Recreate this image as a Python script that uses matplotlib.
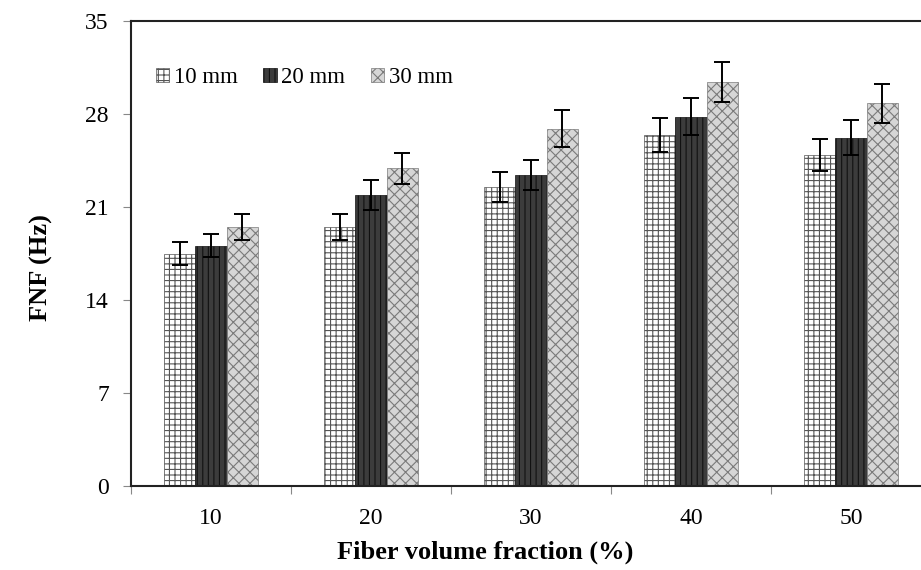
import numpy as np
import matplotlib
matplotlib.use('Agg')
import matplotlib.pyplot as plt

plt.rcParams['font.family'] = ['Liberation Serif', 'DejaVu Serif']
plt.rcParams['hatch.linewidth'] = 0.8

# data
fractions = ['10', '20', '30', '40', '50']
series_names = ['10 mm', '20 mm', '30 mm']
fnf_10mm = [17.5, 19.5, 22.5, 26.4, 24.9]
fnf_20mm = [18.1, 21.9, 23.4, 27.8, 26.2]
fnf_30mm = [19.5, 23.9, 26.9, 30.4, 28.8]
err_10mm = [0.85, 0.96, 1.10, 1.29, 1.22]
err_20mm = [0.89, 1.10, 1.15, 1.40, 1.32]
err_30mm = [0.96, 1.18, 1.37, 1.53, 1.44]

fig = plt.figure(figsize=(9.21, 5.70), dpi=100)
ax = fig.add_axes([131 / 921, 84 / 570, 800 / 921, 465 / 570])

x = np.arange(len(fractions))
width = 0.194
styles = [
    dict(facecolor='white', edgecolor='#555555', hatch='+++'),
    dict(facecolor='#3c3c3c', edgecolor='#111111', hatch='|||'),
    dict(facecolor='#d6d6d6', edgecolor='#7a7a7a', hatch='xxx'),
]
values = [fnf_10mm, fnf_20mm, fnf_30mm]
errors = [err_10mm, err_20mm, err_30mm]

for i in range(3):
    ax.bar(x + (i - 1) * width, values[i], width, label=series_names[i],
           linewidth=0.5, **styles[i])
    ax.errorbar(x + (i - 1) * width, values[i], yerr=errors[i], fmt='none',
                ecolor='black', elinewidth=1.4, capsize=6, capthick=1.4)

ax.set_xlim(-0.5, len(fractions) - 0.5)
ax.set_ylim(0, 35)
ax.set_yticks([0, 7, 14, 21, 28, 35])

# tick marks between groups, labels at group centres
ax.set_xticks(np.arange(-0.5, len(fractions), 1.0))
ax.set_xticklabels([])
ax.set_xticks(x, minor=True)
ax.set_xticklabels(fractions, minor=True)
ax.tick_params(axis='x', which='minor', length=0, pad=16, labelsize=17)
ax.tick_params(axis='x', which='major', length=6, color='#888888')
ax.tick_params(axis='y', length=6, color='#888888', labelsize=17, pad=10)

ax.spines['right'].set_visible(False)
for s in ['top', 'left', 'bottom']:
    ax.spines[s].set_linewidth(1.5)
    ax.spines[s].set_color('#222222')

ax.set_xlabel('Fiber volume fraction (%)', fontsize=19, fontweight='bold')
ax.xaxis.set_label_coords(0.4425, -0.118)
ax.set_ylabel('FNF (Hz)', fontsize=19, fontweight='bold')
ax.yaxis.set_label_coords(-0.098, 0.47)

ax.legend(loc='upper left', bbox_to_anchor=(0.005, 0.945), ncol=3, frameon=False,
          fontsize=16.5, handlelength=0.6, handleheight=0.6, handletextpad=0.2,
          columnspacing=1.1)

fig.savefig('out.png', dpi=100)
